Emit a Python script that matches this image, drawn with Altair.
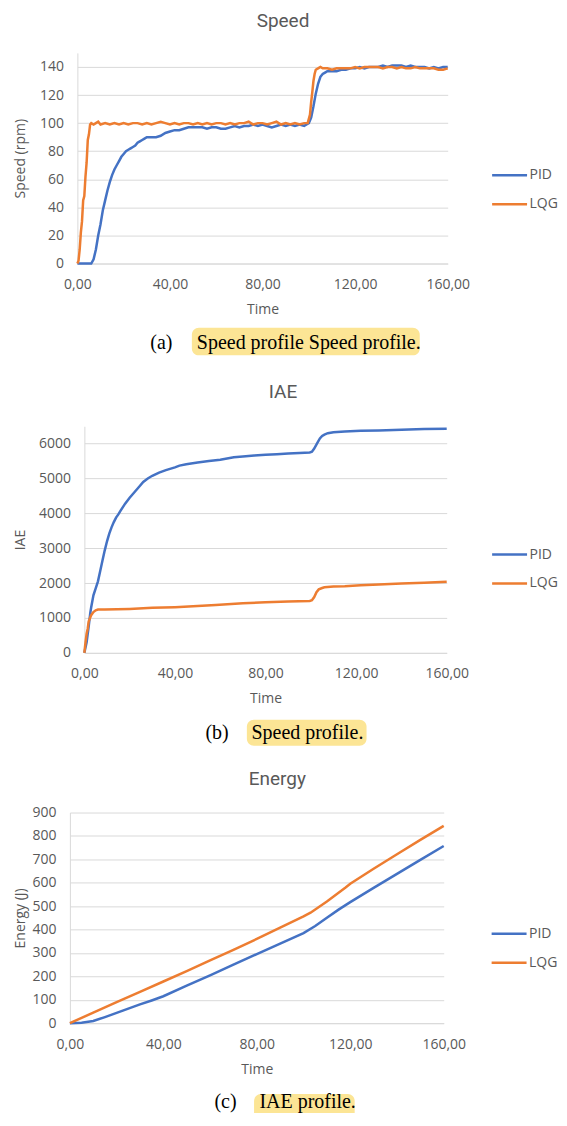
import altair as alt
import pandas as pd

# ---------------- data ----------------
series_names = ["PID", "LQG"]
series_colors = ["#4472C4", "#ED7D31"]
x_ticks = [0, 40, 80, 120, 160]

speed_pid_t = [0, 2, 4, 6, 7, 8, 9, 10, 11, 12, 13, 14, 15, 16, 17, 18, 19, 20, 21, 22, 23, 24, 25, 26, 27, 28, 29, 30,
               32, 34, 36, 38, 40, 42, 44, 46, 48, 50, 52, 54, 56, 58, 60, 62, 64, 66, 68, 70, 72, 74, 76, 78, 80, 82,
               84, 86, 88, 90, 92, 94, 96, 98, 99, 100, 101, 102, 103, 104, 105, 106, 107, 108, 110, 112, 114, 116,
               118, 120, 122, 124, 126, 128, 130, 132, 134, 136, 138, 140, 142, 144, 146, 148, 150, 152, 154, 156,
               158, 160]
speed_pid_v = [0, 0, 0, 0, 3, 10, 20, 28, 38, 45, 52, 58, 63, 67, 70, 73, 76, 78, 80, 81, 82, 83, 84, 86, 87, 88, 89, 90,
               90, 90, 91, 93, 94, 95, 95, 96, 97, 97, 97, 97, 96, 97, 97, 96, 96, 97, 98, 97, 98, 98, 99, 98, 99, 98,
               97, 98, 99, 98, 99, 98, 99, 98, 99, 100, 104, 112, 121, 128, 133, 135, 136, 137, 137, 137, 138, 138,
               139, 139, 140, 139, 140, 140, 140, 141, 140, 141, 141, 141, 140, 141, 140, 140, 140, 139, 140, 139,
               140, 140]
speed_lqg_t = [0, 0.5, 1, 1.5, 2, 2.5, 3, 3.5, 4, 4.5, 5, 5.5, 6, 7, 8, 9, 10, 12, 14, 16, 18, 20, 22, 24, 26, 28, 30,
               32, 34, 36, 38, 40, 42, 44, 46, 48, 50, 52, 54, 56, 58, 60, 62, 64, 66, 68, 70, 72, 74, 76, 78, 80, 82,
               84, 86, 88, 90, 92, 94, 96, 98, 99.5, 100.5, 101, 101.5, 102, 102.5, 103, 104, 105, 106, 108, 110, 112,
               114, 116, 118, 120, 122, 124, 126, 128, 130, 132, 134, 136, 138, 140, 142, 144, 146, 148, 150, 152,
               154, 156, 158, 160]
speed_lqg_v = [0, 2, 10, 22, 30, 45, 48, 62, 72, 88, 92, 99, 100, 99, 100, 101, 99, 100, 99, 100, 99, 100, 99, 100, 100,
               99, 100, 99, 100, 101, 100, 99, 100, 99, 100, 100, 99, 100, 99, 100, 99, 100, 100, 99, 100, 99, 100,
               100, 101, 99, 100, 100, 99, 100, 101, 99, 100, 99, 100, 99, 100, 100, 106, 115, 122, 130, 135, 138,
               139, 140, 139, 139, 138, 139, 139, 139, 139, 140, 139, 140, 140, 140, 140, 139, 140, 140, 139, 140,
               139, 139, 140, 139, 139, 139, 139, 138, 138, 139]

iae_pid_t = [0, 1, 2, 2.6, 3, 4, 5, 6, 7, 8, 9, 10, 11, 12, 13, 14, 15, 16, 18, 20, 22, 24, 26, 28, 30, 33, 36, 40, 42,
             45, 50, 55, 60, 66, 70, 75, 80, 85, 90, 95, 99.5, 100.5, 101.5, 102.7, 104, 105, 106, 107.5, 110, 115,
             122, 130, 140, 150, 160]
iae_pid_v = [0, 300, 800, 1140, 1300, 1650, 1850, 2050, 2350, 2650, 2940, 3200, 3420, 3600, 3750, 3880, 3970, 4080,
             4280, 4450, 4600, 4750, 4900, 5000, 5080, 5170, 5240, 5320, 5370, 5410, 5460, 5500, 5540, 5610, 5630,
             5660, 5680, 5700, 5715, 5735, 5750, 5770, 5860, 6000, 6150, 6220, 6260, 6300, 6330, 6350, 6370, 6380,
             6400, 6420, 6430]
iae_lqg_t = [0, 0.5, 1, 1.5, 1.9, 2.5, 3, 4, 5, 6, 9, 20, 30, 40, 50, 58, 70, 80, 90, 99.5, 100.5, 101.5, 102.5, 103.5,
             105, 106, 110, 115, 122, 130, 140, 150, 160]
iae_lqg_v = [0, 300, 550, 700, 900, 1000, 1080, 1170, 1220, 1240, 1240, 1260, 1290, 1310, 1340, 1370, 1420, 1450, 1470,
             1490, 1510, 1600, 1740, 1820, 1860, 1880, 1900, 1910, 1940, 1960, 1990, 2010, 2040]

energy_pid_t = [0, 5, 10, 15, 20, 25, 30, 35, 40, 50, 60, 70, 80, 90, 100, 105, 110, 115, 120, 130, 140, 150, 160]
energy_pid_v = [0, 2, 9, 26, 44, 62, 80, 97, 115, 160, 204, 250, 295, 340, 385, 415, 450, 485, 517, 578, 638, 698, 757]
energy_lqg_t = [0, 10, 20, 30, 40, 50, 60, 70, 80, 90, 100, 103, 110, 118, 120, 130, 140, 150, 160]
energy_lqg_v = [0, 45, 90, 134, 178, 222, 268, 313, 360, 408, 456, 472, 520, 580, 596, 660, 722, 783, 843]

TEXT = "#595959"
FONT = "Open Sans"
TITLE_FONT = "Roboto"
GRID = "#d9d9d9"
ORIGIN_X = 69.5   # common plot origin (page px) shared by all panels


def frame(pid_t, pid_v, lqg_t, lqg_v):
    a = pd.DataFrame({"t": pid_t, "v": pid_v, "series": "PID"})
    b = pd.DataFrame({"t": lqg_t, "v": lqg_v, "series": "LQG"})
    return pd.concat([a, b], ignore_index=True)


one = pd.DataFrame({"k": [0]})


def panel(df, ytitle, ydom, yvals, x0, x1, h, title, title_x, title_y,
          leg_x, leg_y, lab, cap, cap_lab_x, cap_x, cap_y, box, top, bottom):
    dx = x0 - ORIGIN_X
    r = lambda v: v - ORIGIN_X
    lines = alt.Chart(df).mark_line(strokeWidth=2.5).encode(
        x=alt.X("t:Q", scale=alt.Scale(domain=[0, 160], nice=False, range=[dx, x1 - ORIGIN_X]),
                axis=alt.Axis(values=x_ticks, labelExpr="replace(format(datum.value, '.2f'), '.', ',')",
                              title="Time", grid=False, ticks=False, tickSize=0, domain=True,
                              domainColor=GRID, labelPadding=14, titleY=39, labelFlush=False)),
        y=alt.Y("v:Q", scale=alt.Scale(domain=ydom, nice=False),
                axis=alt.Axis(values=yvals, format="d", title=ytitle, grid=True, gridColor=GRID,
                              ticks=False, tickSize=0, domain=True, domainColor=GRID, offset=-dx,
                              labelPadding=14, titleX=27 - x0)),
        color=alt.Color("series:N", sort=series_names,
                        scale=alt.Scale(domain=series_names, range=series_colors),
                        legend=alt.Legend(orient="none", legendX=r(leg_x), legendY=leg_y, title=None,
                                          symbolType="stroke", symbolSize=1225, symbolStrokeWidth=2.5,
                                          labelFont=FONT, labelFontSize=14, labelColor=TEXT,
                                          labelOffset=1, rowPadding=3, padding=0)),
        order=alt.Order("ord:Q"),
    ).transform_calculate(ord="datum.series == 'PID' ? 0 : 1")

    ttl = alt.Chart(one).mark_text(text=title, font=TITLE_FONT, fontSize=19, color=TEXT,
                                   align="center", baseline="alphabetic").encode(
        x=alt.value(r(title_x)), y=alt.value(title_y))
    rect = alt.Chart(one).mark_rect(color="#FCE595", cornerRadius=7).encode(
        x=alt.value(r(box[0])), x2=alt.value(r(box[1])), y=alt.value(box[2]), y2=alt.value(box[3]))
    lab_t = alt.Chart(one).mark_text(text=lab, font="Liberation Serif", fontSize=20, color="#000000",
                                     align="left", baseline="alphabetic").encode(
        x=alt.value(r(cap_lab_x)), y=alt.value(cap_y))
    cap_t = alt.Chart(one).mark_text(text=cap, font="Liberation Serif", fontSize=20, color="#000000",
                                     align="left", baseline="alphabetic").encode(
        x=alt.value(r(cap_x)), y=alt.value(cap_y))
    # invisible frame that fixes each panel's outer bounds
    spacer = alt.Chart(one).mark_rect(opacity=0).encode(
        x=alt.value(r(8)), x2=alt.value(r(566)), y=alt.value(-top), y2=alt.value(bottom))
    return alt.layer(spacer, rect, lines, ttl, lab_t, cap_t).properties(width=x1 - ORIGIN_X, height=h)


p1 = panel(frame(speed_pid_t, speed_pid_v, speed_lqg_t, speed_lqg_v), "Speed (rpm)", [0, 150],
           [0, 20, 40, 60, 80, 100, 120, 140], 77, 448, 211, "Speed", 283, -25.5,
           491, 103.5, "(a)", "Speed profile Speed profile.", 150, 196.7, 296.3,
           (191.7, 420, 275.3, 303), 60, 329)
p2 = panel(frame(iae_pid_t, iae_pid_v, iae_lqg_t, iae_lqg_v), "IAE", [0, 6500],
           [0, 1000, 2000, 3000, 4000, 5000, 6000], 84, 447, 227, "IAE", 283, -28.7,
           491, 109.5, "(b)", "Speed profile.", 205.3, 251.4, 313.3,
           (246.8, 366.7, 294, 320), 45, 342)
p3 = panel(frame(energy_pid_t, energy_pid_v, energy_lqg_t, energy_lqg_v), "Energy (J)", [0, 900],
           [0, 100, 200, 300, 400, 500, 600, 700, 800, 900], 69.5, 444, 211, "Energy", 277.4, -28,
           490.5, 102.5, "(c)", "IAE profile.", 214.3, 259.4, 296,
           (254, 354.8, 282, 313), 45, 330)

chart = alt.vconcat(p1, p2, p3, spacing=0).resolve_scale(
    x="independent", y="independent", color="independent"
).resolve_legend(color="independent").properties(
    padding={"left": 0, "top": -16, "right": -7, "bottom": -30}
).configure_view(stroke=None).configure_axis(
    labelFont=FONT, labelFontSize=14, labelColor=TEXT,
    titleFont=FONT, titleFontSize=14, titleColor=TEXT, titleFontWeight="normal"
)

chart.save("out.html", embed_options={"renderer": "svg", "actions": False})
